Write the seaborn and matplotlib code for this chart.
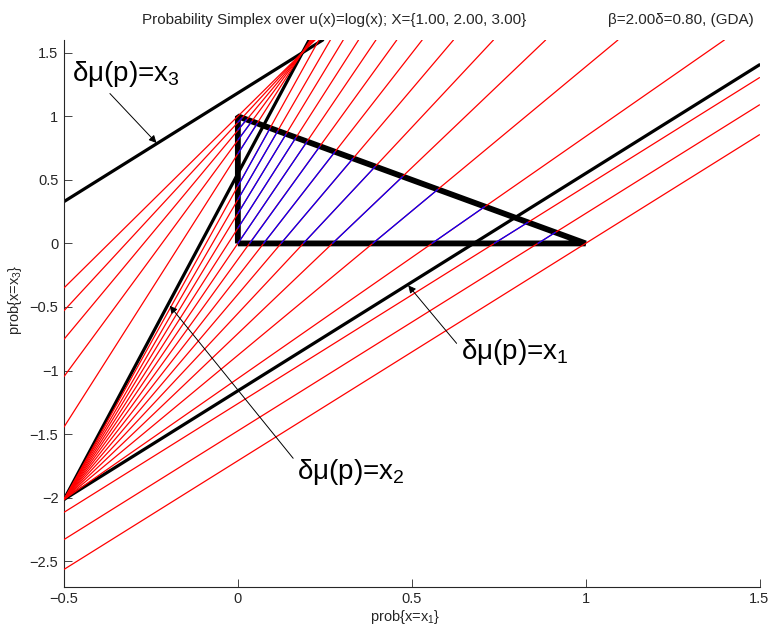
"""GDA indifference lines over the probability simplex"""

import numpy as np
import pandas as pd
import seaborn as sns
from matplotlib import pyplot as plt

# ---------------------------------------------------------------
# Data, coordinates are (p1, p3)
# red iso-certainty-equivalent lines (start x/y, end x/y)
red_x0 = [-0.5, -0.5, -0.5,
          -0.5, -0.5, -0.5, -0.5, -0.5, -0.5, -0.5, -0.5, -0.5, -0.5, -0.5, -0.5,
          -0.5, -0.5, -0.5, -0.5, -0.5]
red_y0 = [-2.564, -2.329, -2.115,
          -2.014, -2.014, -2.014, -2.014, -2.014, -2.014, -2.014, -2.014, -2.014, -2.014, -2.014, -2.014,
          -1.444, -1.047, -0.754, -0.529, -0.350]
red_x1 = [1.5, 1.5, 1.5,
          1.399, 1.093, 0.885, 0.735, 0.620, 0.530, 0.457, 0.397, 0.347, 0.303, 0.266, 0.233,
          0.208, 0.212, 0.216, 0.219, 0.222]
red_y1 = [0.855, 1.090, 1.304,
          1.6, 1.6, 1.6, 1.6, 1.6, 1.6, 1.6, 1.6, 1.6, 1.6, 1.6, 1.6,
          1.6, 1.6, 1.6, 1.6, 1.6]

# the same lines where they run inside the simplex
blue_x0 = [0.863, 0.737, 0.558, 0.388, 0.272, 0.188, 0.124, 0.074, 0.034, 0.0,
           0.0, 0.0, 0.0, 0.0, 0.0, 0.0, 0.0, 0.0]
blue_y0 = [0.0, 0.0, 0.0, 0.0, 0.0, 0.0, 0.0, 0.0, 0.0, 0.0,
           0.120, 0.235, 0.345, 0.450, 0.704, 0.812, 0.891, 0.952]
blue_x1 = [0.913, 0.834, 0.710, 0.575, 0.474, 0.395, 0.331, 0.279, 0.236, 0.199,
           0.167, 0.139, 0.115, 0.093, 0.056, 0.040, 0.025, 0.012]
blue_y1 = [0.087, 0.166, 0.290, 0.425, 0.526, 0.605, 0.669, 0.721, 0.764, 0.801,
           0.833, 0.861, 0.885, 0.907, 0.944, 0.960, 0.975, 0.988]

# delta*mu(p) = x_i lines (x1, x2, x3)
blk_x0 = [-0.5, -0.5, -0.5]
blk_y0 = [-2.014, -2.014, 0.329]
blk_x1 = [1.5, 0.205, 0.244]
blk_y1 = [1.405, 1.6, 1.6]

# simplex outline
tri_x = [0.0, 1.0, 0.0, 0.0]
tri_y = [0.0, 0.0, 1.0, 0.0]

xticks = [-0.5, 0, 0.5, 1, 1.5]
xtick_labels = ['\u22120.5', '0', '0.5', '1', '1.5']
yticks = [-2.5, -2, -1.5, -1, -0.5, 0, 0.5, 1, 1.5]
ytick_labels = ['\u22122.5', '\u22122', '\u22121.5', '\u22121', '\u22120.5',
                '0', '0.5', '1', '1.5']


def seg_frame(x0, y0, x1, y1):
    rows = []
    for ii, (a, b, c, d) in enumerate(zip(x0, y0, x1, y1)):
        rows.append(dict(seg=ii, x=a, y=b))
        rows.append(dict(seg=ii, x=c, y=d))
    return pd.DataFrame(rows)


# ---------------------------------------------------------------
sns.set_style('ticks')
plt.rcParams['font.family'] = ['Liberation Sans', 'DejaVu Sans']
plt.rcParams['mathtext.fontset'] = 'custom'
plt.rcParams['mathtext.rm'] = 'Liberation Sans'
plt.rcParams['mathtext.default'] = 'regular'

fig = plt.figure(figsize=(7.71, 6.28), dpi=100)
ax = fig.add_axes([64/771, 1-586.7/628, (759.5-64)/771, (586.7-40)/628])

lkw = dict(x='x', y='y', units='seg', estimator=None, sort=False,
           legend=False, ax=ax)

sns.lineplot(data=seg_frame(blk_x0, blk_y0, blk_x1, blk_y1), color='black',
             lw=2.3, zorder=2, **lkw)
ax.plot(tri_x, tri_y, color='black', lw=4.2, zorder=2,
        solid_joinstyle='bevel', solid_capstyle='butt')
sns.lineplot(data=seg_frame(red_x0, red_y0, red_x1, red_y1), color='red',
             lw=0.9, zorder=3, **lkw)
sns.lineplot(data=seg_frame(blue_x0, blue_y0, blue_x1, blue_y1), color='blue',
             lw=0.9, zorder=4, **lkw)

# Labels with arrows
akw = dict(arrowstyle='-|>', color='black', lw=0.7, mutation_scale=11,
           shrinkA=0, shrinkB=0)
ax.annotate('', xy=(-0.234, 0.790), xytext=(-0.368, 1.179), arrowprops=akw)
ax.annotate('', xy=(0.490, -0.330), xytext=(0.629, -0.786), arrowprops=akw)
ax.annotate('', xy=(-0.196, -0.49), xytext=(0.159, -1.690), arrowprops=akw)
tkw = dict(fontsize=20, ha='left', va='baseline', color='black')
ax.text(-0.477, 1.280, '\u03b4\u03bc(p)=x$_3$', **tkw)
ax.text(0.643, -0.906, '\u03b4\u03bc(p)=x$_1$', **tkw)
ax.text(0.169, -1.849, '\u03b4\u03bc(p)=x$_2$', **tkw)

# Axes
ax.set_xlim(-0.5, 1.5)
ax.set_ylim(-2.70, 1.60)
ax.set_xticks(xticks, labels=xtick_labels)
ax.set_yticks(yticks, labels=ytick_labels)
ax.tick_params(direction='in', length=6, width=0.6, labelsize=10.5, pad=4)
ax.set_xlabel('')
ax.set_ylabel('')
sns.despine(ax=ax)
for sp in ['left', 'bottom']:
    ax.spines[sp].set_linewidth(0.8)

fig.text(405/771, 1-617/628, 'prob{x=x$_1$}', fontsize=10.5, ha='center',
         va='center')
fig.text(15/771, 1-300/628, 'prob{x=x$_3$}', fontsize=10.5, ha='center',
         va='center', rotation=90)
fig.text(142/771, 1-20/628,
         'Probability Simplex over u(x)=log(x); X={1.00, 2.00, 3.00}',
         fontsize=11, ha='left', va='center')
fig.text(754/771, 1-20/628, '\u03b2=2.00\u03b4=0.80, (GDA)', fontsize=11,
         ha='right', va='center')

plt.savefig('out.png', dpi=100)
print("Saved: out.png")
